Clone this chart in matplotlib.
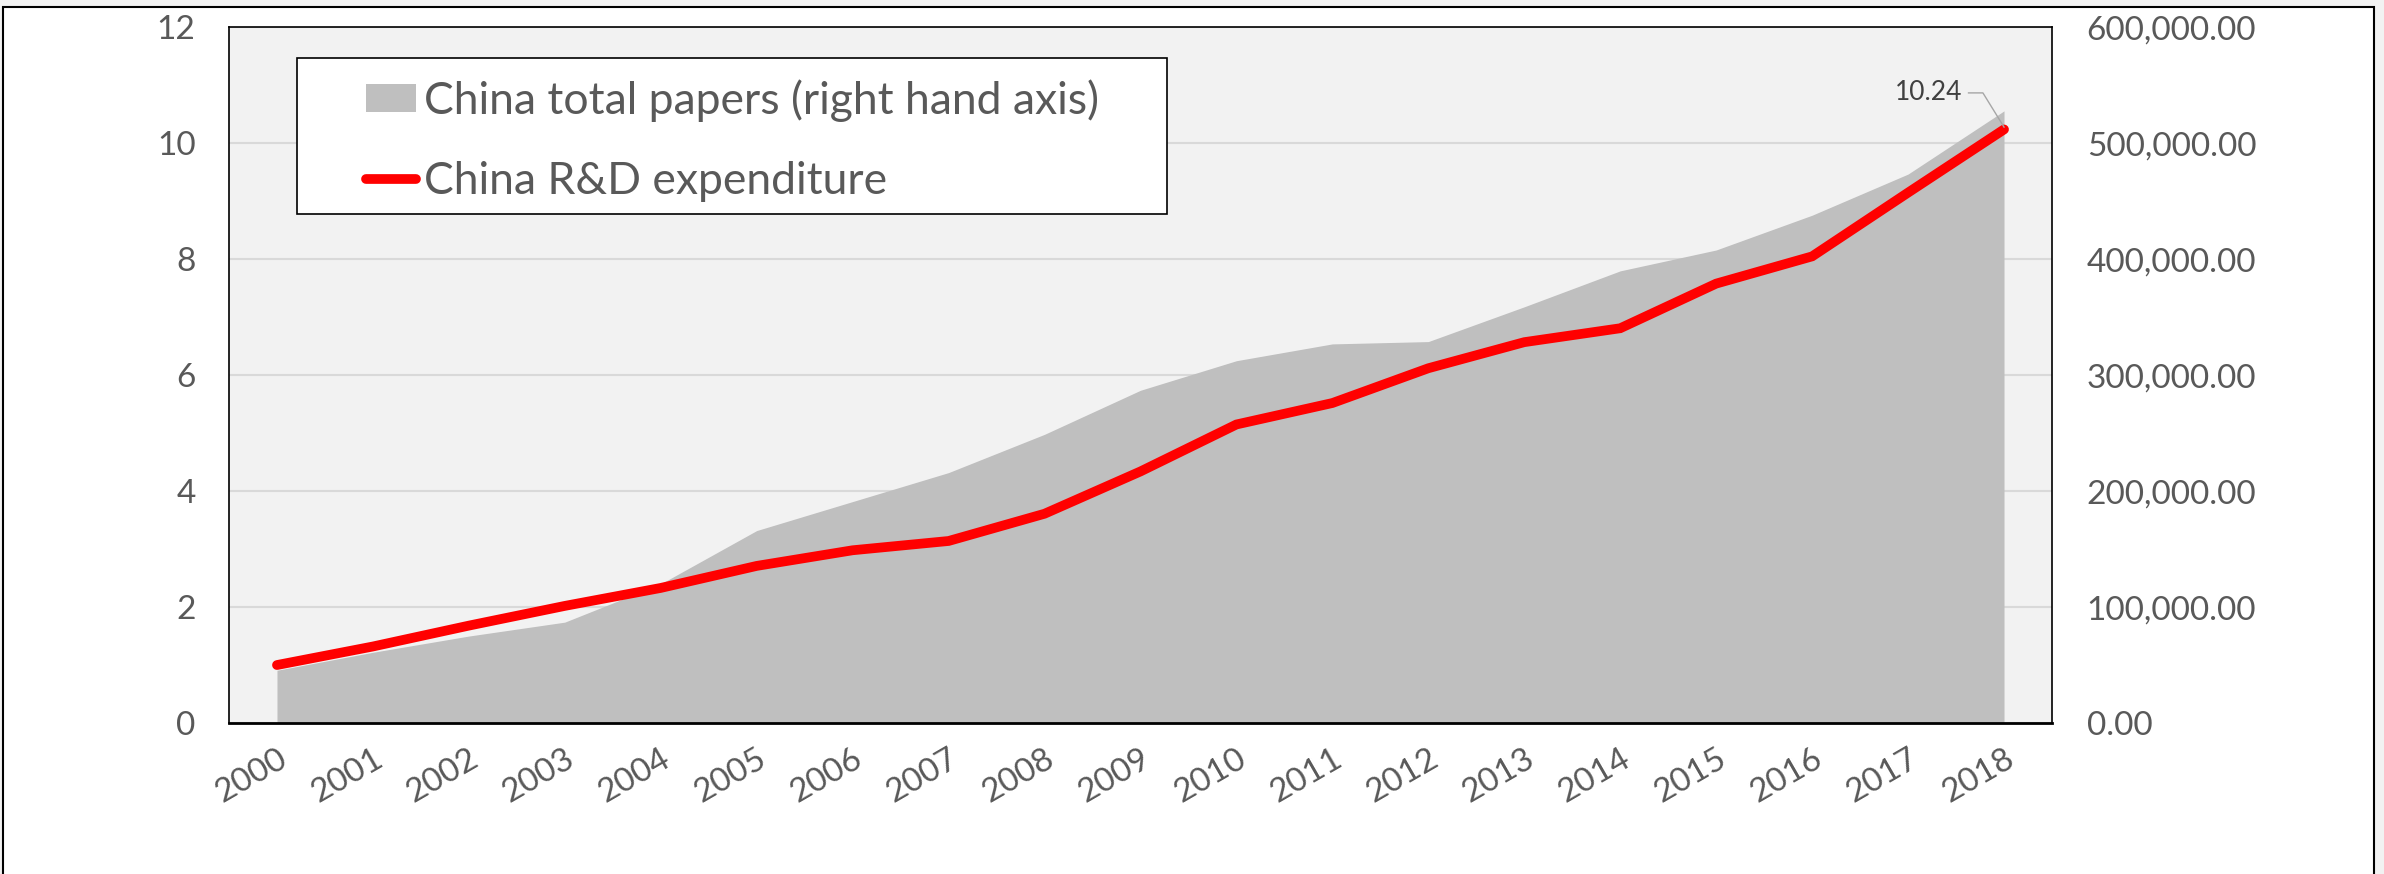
import matplotlib

matplotlib.use("Agg")
import matplotlib.pyplot as plt
from matplotlib.lines import Line2D
from matplotlib.patches import Patch, Rectangle
from matplotlib.ticker import FuncFormatter

# values
YEARS = [str(y) for y in range(2000, 2019)]
RD_EXPENDITURE = [1.00, 1.32, 1.68, 2.02, 2.33, 2.71, 2.98, 3.14, 3.61, 4.34,
                  5.15, 5.52, 6.12, 6.57, 6.81, 7.58, 8.05, 9.15, 10.24]
TOTAL_PAPERS = [45500, 61000, 75000, 87000, 120000, 166000, 191000, 216000,
                249000, 287000, 312500, 327000, 329000, 359000, 390000,
                408000, 438000, 473500, 528000]
LEFT_TICKS = [0, 2, 4, 6, 8, 10, 12]
RIGHT_TICKS = [0, 100000, 200000, 300000, 400000, 500000, 600000]
LABEL_PAPERS = "China total papers (right hand axis)"
LABEL_RD = "China R&D expenditure"

RED = "#ff0000"
AREA = "#bfbfbf"
PLOT_BG = "#f2f2f2"
GRID = "#d9d9d9"
TEXT = "#595959"

plt.rcParams.update({"font.family": ["Lato", "DejaVu Sans"]})

W, H = 2384, 874
fig = plt.figure(figsize=(W / 100, H / 100), dpi=100)
fig.patch.set_facecolor("#f2f2f2")
# outer white chart frame (bottom edge runs off the picture)
fig.patches.append(Rectangle((3 / W, -0.02), 2371 / W, 1.02 - 7 / H,
                             transform=fig.transFigure, facecolor="white",
                             edgecolor="black", lw=1.5, zorder=-10))

ax = fig.add_axes([229 / W, 1 - 723 / H, 1823 / W, 695.6 / H])
ax2 = ax.twinx()
ax.set_zorder(ax2.get_zorder() + 1)
ax.patch.set_visible(False)
ax2.patch.set_visible(True)
ax2.patch.set_facecolor(PLOT_BG)

x = list(range(len(YEARS)))

# area (right axis) under the red line
ax2.fill_between(x, TOTAL_PAPERS, 0, color=AREA, lw=0, zorder=2)
ax2.set_ylim(0, 600000)
ax2.set_yticks(RIGHT_TICKS)
ax2.yaxis.set_major_formatter(FuncFormatter(lambda v, _: f"{v:,.2f}"))
ax2.grid(axis="y", color=GRID, lw=1.5, zorder=1)
ax2.set_axisbelow(True)

ax.plot(x, RD_EXPENDITURE, color=RED, lw=7, solid_capstyle="round",
        solid_joinstyle="miter", zorder=3)
ax.set_ylim(0, 12)
ax.set_yticks(LEFT_TICKS)
ax.set_xlim(-0.5, len(YEARS) - 0.5)
ax.set_xticks(x)
ax.set_xticklabels(YEARS, rotation=30, ha="right", va="top",
                   rotation_mode="anchor")

ax.tick_params(axis="y", length=0, pad=24, labelsize=24, labelcolor=TEXT)
ax.tick_params(axis="x", length=0, pad=15, labelsize=24, labelcolor=TEXT)
ax2.tick_params(axis="y", length=0, pad=25, labelsize=24, labelcolor=TEXT)

for sp in ax2.spines.values():
    sp.set_visible(False)
for name, sp in ax.spines.items():
    sp.set_color("black")
    sp.set_linewidth(2 if name == "bottom" else 1.2)

# data label on the last point
lx, ly = x[-1], RD_EXPENDITURE[-1]
ax.text(lx - 0.43, ly + 0.63, f"{ly:.2f}", ha="right", va="center",
        fontsize=19, color="#404040", zorder=6)
ax.plot([lx - 0.37, lx - 0.22, lx], [ly + 0.63, ly + 0.63, ly + 0.04],
        color="#a6a6a6", lw=1, zorder=6)

# legend: white box drawn separately, entries placed inside it
ax.add_patch(Rectangle((0.0373, 0.7318), 0.4772, 0.2242,
                       transform=ax.transAxes, facecolor="white",
                       edgecolor="black", lw=1.2, zorder=4))
handles = [Patch(facecolor=AREA, edgecolor="none"),
           Line2D([], [], color=RED, lw=7, solid_capstyle="round")]
leg = ax.legend(handles, [LABEL_PAPERS, LABEL_RD], loc="upper left",
                bbox_to_anchor=(0.0752, 0.9255), frameon=False, fontsize=32,
                handlelength=1.13, handleheight=0.6, handletextpad=0.18,
                labelspacing=0.87, borderpad=0, borderaxespad=0,
                labelcolor=TEXT)
leg.set_zorder(5)

fig.savefig("out.png", dpi=100, facecolor=fig.get_facecolor())
